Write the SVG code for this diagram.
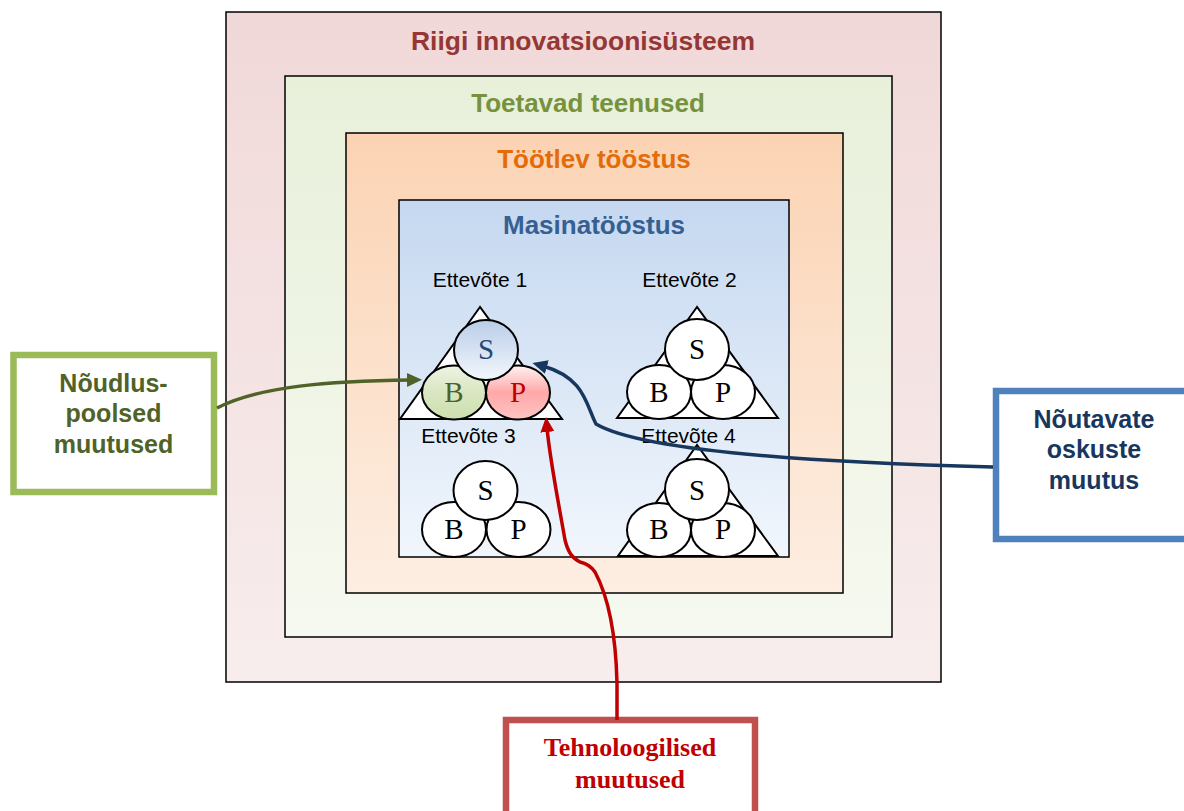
<svg xmlns="http://www.w3.org/2000/svg" width="1184" height="811" viewBox="0 0 1184 811">
<style>
.frame{stroke:#000;stroke-width:1.5}
.ft{font-family:"Liberation Sans",Arial,sans-serif;font-weight:bold;font-size:26px;text-anchor:middle}
.lab{font-family:"Liberation Sans",Arial,sans-serif;font-size:21px;text-anchor:middle;fill:#000}
.c{stroke:#000;stroke-width:2}
.tri{stroke:#000;stroke-width:2;fill:#fff}
.ltr{font-family:"Liberation Serif","Times New Roman",serif;font-size:29px;text-anchor:middle}
.bt{font-family:"Liberation Sans",Arial,sans-serif;font-weight:bold;font-size:25px;text-anchor:middle}
.conn{fill:none;stroke-width:3.5}
</style>
<defs>
<linearGradient id="gOuter" x1="0" y1="0" x2="0" y2="1"><stop offset="0" stop-color="#f1d8d8"/><stop offset="1" stop-color="#f8eded"/></linearGradient>
<linearGradient id="gGreen" x1="0" y1="0" x2="0" y2="1"><stop offset="0" stop-color="#e8f0da"/><stop offset="1" stop-color="#f6f9f0"/></linearGradient>
<linearGradient id="gOrange" x1="0" y1="0" x2="0" y2="1"><stop offset="0" stop-color="#fbd3b3"/><stop offset="1" stop-color="#fdeee2"/></linearGradient>
<linearGradient id="gBlue" x1="0" y1="0" x2="0" y2="1"><stop offset="0" stop-color="#c5d8f0"/><stop offset="1" stop-color="#f1f6fc"/></linearGradient>
<linearGradient id="gS" x1="0" y1="0" x2="0" y2="1"><stop offset="0" stop-color="#b9cde8"/><stop offset="1" stop-color="#f3f7fc"/></linearGradient>
<linearGradient id="gB" x1="0" y1="0" x2="0" y2="1"><stop offset="0" stop-color="#eef3e4"/><stop offset="0.5" stop-color="#d9e6c1"/><stop offset="1" stop-color="#cddfae"/></linearGradient>
<linearGradient id="gP" x1="0" y1="0" x2="0" y2="1"><stop offset="0" stop-color="#fff2f2"/><stop offset="0.5" stop-color="#ffa8a8"/><stop offset="1" stop-color="#ffc4c4"/></linearGradient>
<marker id="aG" markerUnits="userSpaceOnUse" markerWidth="20" markerHeight="20" refX="4" refY="7" orient="auto"><path d="M0,0 L15,7 L0,14 z" fill="#4f6228"/></marker>
<marker id="aB" markerUnits="userSpaceOnUse" markerWidth="20" markerHeight="20" refX="4" refY="7" orient="auto"><path d="M0,0 L15,7 L0,14 z" fill="#17375e"/></marker>
<marker id="aR" markerUnits="userSpaceOnUse" markerWidth="20" markerHeight="20" refX="4" refY="7" orient="auto"><path d="M0,0 L15,7 L0,14 z" fill="#c00000"/></marker>
</defs>
<rect width="1184" height="811" fill="#fff"/>

<g id="frame-riigi">
<rect class="frame" x="226" y="12" width="715" height="670" fill="url(#gOuter)"/>
<text class="ft" x="583" y="50" fill="#953735" textLength="344" lengthAdjust="spacingAndGlyphs">Riigi innovatsioonisüsteem</text>
</g>
<g id="frame-toetavad">
<rect class="frame" x="285" y="76" width="607" height="561" fill="url(#gGreen)"/>
<text class="ft" x="588" y="112" fill="#76923c">Toetavad teenused</text>
</g>
<g id="frame-tootlev">
<rect class="frame" x="346" y="133" width="497" height="460" fill="url(#gOrange)"/>
<text class="ft" x="594" y="168" fill="#e36c09">Töötlev tööstus</text>
</g>
<g id="frame-masina">
<rect class="frame" x="399" y="200" width="390" height="357" fill="url(#gBlue)"/>
<text class="ft" x="594" y="234" fill="#366092">Masinatööstus</text>
</g>

<g id="ettevote1">
<text class="lab" x="480" y="287">Ettevõte 1</text>
<polygon class="tri" points="480,307 400,419 562,419"/>
<ellipse class="c" cx="454" cy="392.5" rx="32" ry="27" fill="url(#gB)"/>
<ellipse class="c" cx="518" cy="392.5" rx="32" ry="27" fill="url(#gP)"/>
<ellipse class="c" cx="486" cy="350" rx="32" ry="30" fill="url(#gS)"/>
<text class="ltr" x="486" y="359" fill="#1f497d">S</text>
<text class="ltr" x="454" y="402" fill="#4f6228">B</text>
<text class="ltr" x="518" y="402" fill="#c00000">P</text>
</g>
<g id="ettevote2">
<text class="lab" x="689.5" y="287">Ettevõte 2</text>
<polygon class="tri" points="697,307 617,418 778,418"/>
<ellipse class="c" cx="659" cy="392" rx="32" ry="27" fill="#fff"/>
<ellipse class="c" cx="723" cy="392" rx="32" ry="27" fill="#fff"/>
<ellipse class="c" cx="697" cy="349.5" rx="32" ry="30.5" fill="#fff"/>
<text class="ltr" x="697" y="359" fill="#000">S</text>
<text class="ltr" x="659" y="402" fill="#000">B</text>
<text class="ltr" x="723" y="402" fill="#000">P</text>
</g>
<g id="ettevote3">
<text class="lab" x="468.5" y="443">Ettevõte 3</text>
<ellipse class="c" cx="454" cy="529.5" rx="32" ry="27.5" fill="#fff"/>
<ellipse class="c" cx="518.5" cy="529.5" rx="32" ry="27.5" fill="#fff"/>
<ellipse class="c" cx="485.5" cy="490.5" rx="32" ry="29.5" fill="#fff"/>
<text class="ltr" x="485.5" y="500" fill="#000">S</text>
<text class="ltr" x="454" y="539" fill="#000">B</text>
<text class="ltr" x="518.5" y="539" fill="#000">P</text>
</g>
<g id="ettevote4">
<text class="lab" x="688.5" y="443">Ettevõte 4</text>
<polygon class="tri" points="697,445 618,556 778,556"/>
<ellipse class="c" cx="659" cy="530" rx="32" ry="27" fill="#fff"/>
<ellipse class="c" cx="723" cy="530" rx="32" ry="27" fill="#fff"/>
<ellipse class="c" cx="697" cy="489.5" rx="32" ry="30.5" fill="#fff"/>
<text class="ltr" x="697" y="500" fill="#000">S</text>
<text class="ltr" x="659" y="539" fill="#000">B</text>
<text class="ltr" x="723" y="539" fill="#000">P</text>
</g>

<g id="box-noudlus">
<rect x="13.5" y="355" width="200.5" height="137" fill="#fff" stroke="#9bbb59" stroke-width="6.5"/>
<text class="bt" fill="#4f6228"><tspan x="113.5" y="392">Nõudlus-</tspan><tspan x="113.5" y="422">poolsed</tspan><tspan x="113.5" y="453">muutused</tspan></text>
</g>
<g id="box-noutavate">
<rect x="996" y="391" width="196" height="148" fill="#fff" stroke="#4f81bd" stroke-width="6.5"/>
<text class="bt" fill="#17375e"><tspan x="1094" y="428">Nõutavate</tspan><tspan x="1094" y="458">oskuste</tspan><tspan x="1094" y="489">muutus</tspan></text>
</g>
<g id="box-tehno">
<rect x="506" y="720" width="249" height="120" fill="#fff" stroke="#c0504d" stroke-width="6.5"/>
<text font-family="'Liberation Serif','Times New Roman',serif" font-weight="bold" font-size="26" text-anchor="middle" fill="#c00000"><tspan x="630" y="756">Tehnoloogilised</tspan><tspan x="630" y="788">muutused</tspan></text>
</g>

<g id="connectors">
<path class="conn" stroke="#4f6228" d="M217,408 C260,386 330,381 411,380" marker-end="url(#aG)"/>
<path class="conn" stroke="#17375e" d="M993,467 C800,462 640,450 596,424 C586,405 585,378 543,366" marker-end="url(#aB)"/>
<path class="conn" stroke="#c00000" d="M617,720 L617,683 C616,640 610,600 595,572 C590,565 585,563 580,562 C572,558 568,552 565,540 C558,500 550,460 547,428" marker-end="url(#aR)"/>
</g>
</svg>
